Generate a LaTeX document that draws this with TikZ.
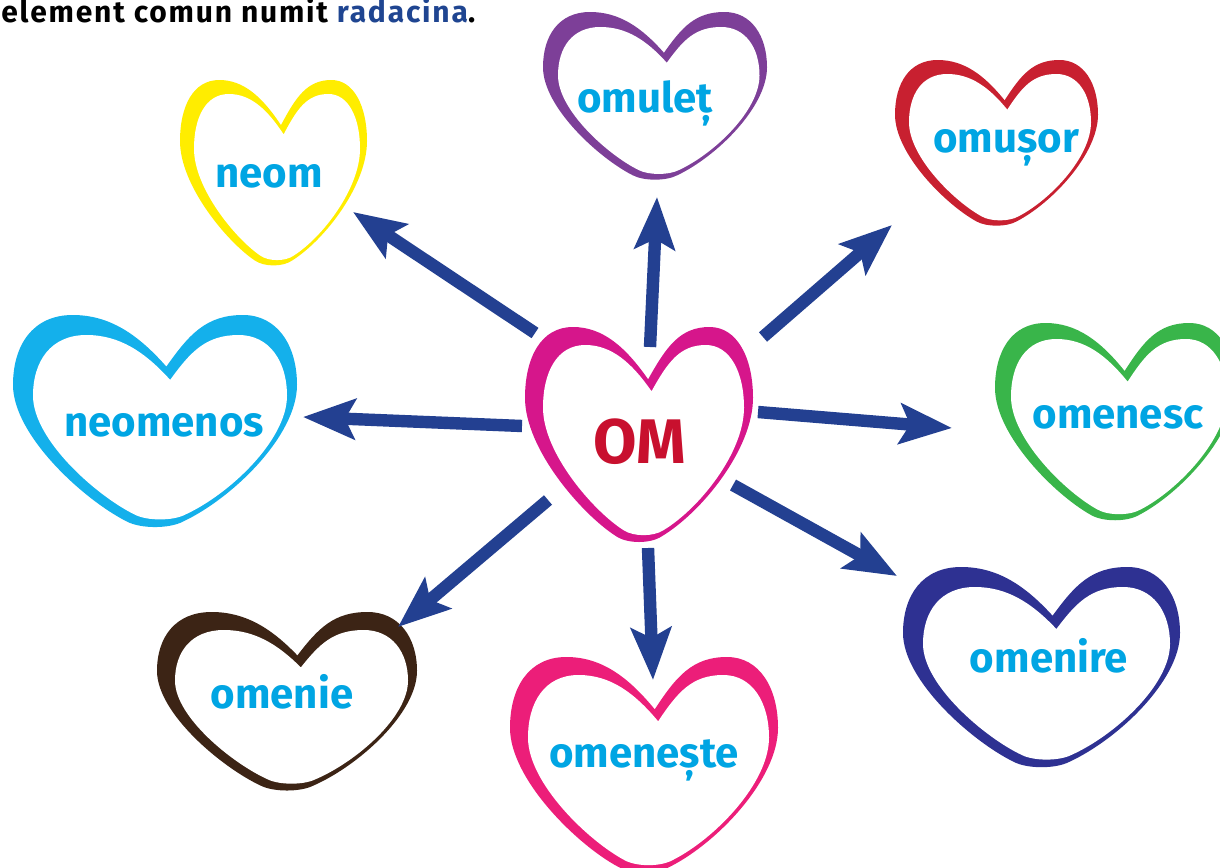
\documentclass[tikz,border=0pt]{standalone}
\usepackage{fontspec}
\setmainfont{Fira Sans}
\usetikzlibrary{arrows.meta}
\definecolor{arrowblue}{RGB}{35,64,145}
\definecolor{wordcyan}{RGB}{0,165,227}
\definecolor{titleblue}{RGB}{31,69,145}
\definecolor{omred}{RGB}{200,16,46}
\definecolor{heartyellow}{RGB}{255,237,0}
\definecolor{heartpurple}{RGB}{125,63,152}
\definecolor{heartred}{RGB}{200,32,48}
\definecolor{heartcyan}{RGB}{20,176,235}
\definecolor{heartgreen}{RGB}{57,181,74}
\definecolor{heartnavy}{RGB}{46,49,146}
\definecolor{heartpink}{RGB}{236,30,121}
\definecolor{heartbrown}{RGB}{60,36,21}
\definecolor{heartmagenta}{RGB}{214,22,139}
\tikzstyle{arrowline} = [line width=6.2pt,arrowblue,-{Stealth[length=26pt,width=20pt,inset=5pt]}]
\tikzstyle{word} = [anchor=base,inner sep=0pt,text=wordcyan,font=\bfseries\fontsize{21}{25}\selectfont]
\newcommand{\heartpath}{(0.08,-0.52) .. controls (-0.12,-0.82) and (-0.32,-1) .. (-0.58,-1)
  .. controls (-0.86,-1) and (-1,-0.72) .. (-1,-0.35)
  .. controls (-1,0.12) and (-0.5,0.72) .. (-0.2,0.92)
  .. controls (-0.1,0.99) and (0.1,0.99) .. (0.2,0.92)
  .. controls (0.55,0.7) and (1,0.12) .. (1,-0.35)
  .. controls (1,-0.72) and (0.86,-1) .. (0.62,-1)
  .. controls (0.36,-1) and (0.24,-0.82) .. (0.08,-0.52) -- cycle}
\newcommand{\heart}[6]{%
  \fill[#1,shift={(#2,#3)},xscale=#4,yscale=#5] \heartpath;
  \fill[white,shift={({#2+0.25*#6},{#3+0.3*#6})},xscale={#4-0.75*#6},yscale={#5-0.7*#6}] \heartpath;}

\begin{document}
\begin{tikzpicture}[x=0.5pt,y=-0.5pt]
  \useasboundingbox[fill=white] (0,0) rectangle (1220,867);
  \foreach \col/\cx/\cy/\hw/\hh/\t in {heartyellow/273.5/174/93.5/94/14,
    heartpurple/655/97/112/85/15, heartred/996.5/144/101.5/84/14,
    heartcyan/155/422.5/142/107.5/20, heartgreen/1115/423/120/100/16,
    heartnavy/1041.5/668.5/138.5/101.5/20, heartpink/644/766/134/109/18,
    heartbrown/287/702.5/130/90.5/18, heartmagenta/639/436/114/109/18}
    {\heart{\col}{\cx}{\cy}{\hw}{\hh}{\t}}

  \node[anchor=base west,inner sep=0pt,font=\bfseries\fontsize{15}{18}\selectfont\addfontfeatures{LetterSpace=6}] (title) at (1,22)
    {element comun numit \textcolor{titleblue}{radacina}.};

  \node[word,text=omred,font=\bfseries\fontsize{31.5}{38}\selectfont] (om) at (640,463) {OM};
  \node[word] (neom) at (269,187) {neom};
  \node[word] (omulet) at (645,112) {omuleț};
  \node[word] (omusor) at (1006,152) {omușor};
  \node[word] (neomenos) at (164,436) {neomenos};
  \node[word] (omenesc) at (1118,428) {omenesc};
  \node[word] (omenire) at (1049,672) {omenire};
  \node[word] (omeneste) at (644,767) {omenește};
  \node[word] (omenie) at (282,708) {omenie};

  \foreach \tgt/\ox/\oy/\tx/\ty in {neom/-105/-130/84/25, neomenos/-118/-37/139/-19,
    omulet/10/-116/12/85, omusor/123/-126/-114/73, omenesc/118/-51/-166/0,
    omenire/93/22/-152/-96, omeneste/8/85/9/-87, omenie/-92/37/116/-81}
    \draw[arrowline] ([shift={(\ox,\oy)}]om.base) -- ([shift={(\tx,\ty)}]\tgt.base);
\end{tikzpicture}
\end{document}
